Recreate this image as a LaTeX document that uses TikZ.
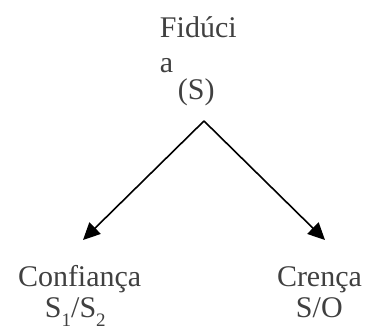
\documentclass[tikz,border=0pt]{standalone}
\usepackage{fontspec}
\setmainfont{Liberation Serif}
\usetikzlibrary{arrows.meta}
\definecolor{txt}{HTML}{404040}
\tikzset{
  lbl/.style={anchor=base west, inner sep=0pt, outer sep=0pt, text=txt, font=\fontsize{30}{30}\selectfont},
  arr/.style={line width=1.6pt, draw=black, -{Triangle[length=17pt,width=16pt]}}
}
\newcommand{\mysub}[1]{\raisebox{-0.28em}{\fontsize{19}{19}\selectfont #1}}
\begin{document}
\begin{tikzpicture}[x=1pt,y=1pt]
\useasboundingbox (0,0) rectangle (368,327);
\node[lbl] (fid) at (160,289) {Fidúci};
\node[lbl] (fida) at (160,254) {a};
\node[lbl] (s) at (178,227) {(S)};
\node[lbl] (conf) at (18,40) {Confiança};
\node[lbl] (confs) at (45,9) {S\mysub{1}/S\mysub{2}};
\node[lbl] (cren) at (277,40) {Crença};
\node[lbl] (crens) at (296,9) {S/O};
\coordinate (apex) at (204,206);
\coordinate (tipl) at (83,87);
\coordinate (tipr) at (325,87);
\draw[arr] (apex) -- (tipl);
\draw[arr] (apex) -- (tipr);
\end{tikzpicture}
\end{document}
